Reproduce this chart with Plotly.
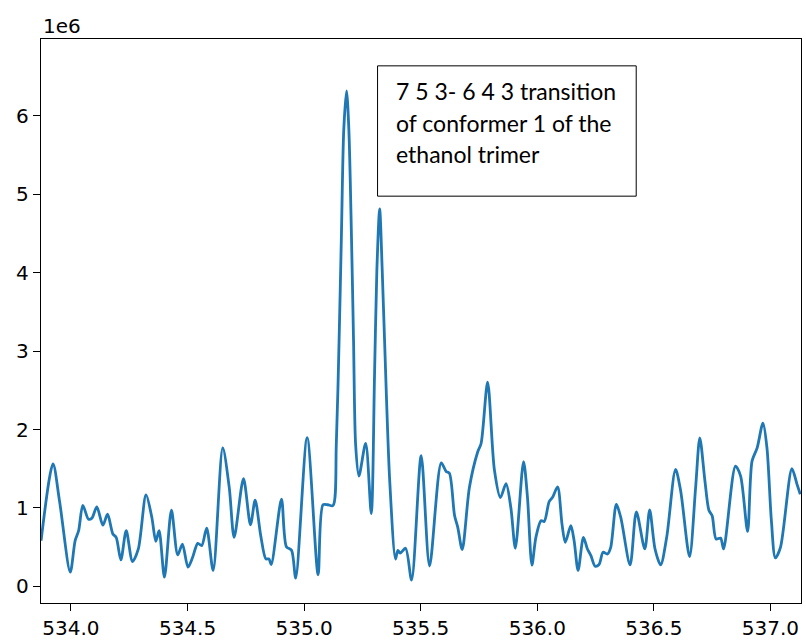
import plotly.graph_objects as go

# Frequency axis (MHz) and intensity (units of 1e6) of the measured spectrum segment
freq_mhz = [
    533.872, 533.923, 533.951, 533.997, 534.018, 534.033, 534.051, 534.075, 534.090, 534.111,
    534.137, 534.157, 534.180, 534.194, 534.214, 534.237, 534.264, 534.289, 534.322, 534.347,
    534.364, 534.378, 534.401, 534.431, 534.458, 534.478, 534.502, 534.522, 534.544, 534.561,
    534.582, 534.610, 534.651, 534.679, 534.700, 534.740, 534.770, 534.790, 534.814, 534.836,
    534.849, 534.859, 534.903, 534.924, 534.946, 534.964, 535.013, 535.060, 535.081, 535.102,
    535.124, 535.138, 535.150, 535.160, 535.170, 535.182, 535.192, 535.203, 535.212, 535.221,
    535.235, 535.264, 535.288, 535.302, 535.312, 535.324, 535.335, 535.345, 535.367, 535.392,
    535.402, 535.412, 535.435, 535.461, 535.502, 535.538, 535.588, 535.609, 535.623, 535.645,
    535.659, 535.678, 535.709, 535.744, 535.759, 535.787, 535.816, 535.842, 535.866, 535.887,
    535.906, 535.941, 535.958, 535.977, 535.994, 536.016, 536.030, 536.051, 536.065, 536.087,
    536.106, 536.120, 536.144, 536.158, 536.175, 536.198, 536.215, 536.230, 536.248, 536.265,
    536.282, 536.301, 536.315, 536.339, 536.358, 536.398, 536.425, 536.461, 536.482, 536.505,
    536.529, 536.555, 536.593, 536.615, 536.653, 536.679, 536.697, 536.719, 536.736, 536.750,
    536.767, 536.786, 536.799, 536.850, 536.872, 536.902, 536.921, 536.943, 536.968, 536.985,
    537.004, 537.021, 537.043, 537.092, 537.114, 537.128,
]
intensity_1e6 = [
    0.583, 1.563, 1.090, 0.181, 0.583, 0.710, 1.034, 0.857, 0.870, 1.014,
    0.781, 0.920, 0.667, 0.625, 0.337, 0.710, 0.317, 0.477, 1.166, 0.879,
    0.574, 0.710, 0.118, 0.971, 0.401, 0.540, 0.245, 0.371, 0.549, 0.520,
    0.743, 0.203, 1.766, 1.259, 0.625, 1.373, 0.786, 1.098, 0.647, 0.350,
    0.350, 0.279, 1.111, 0.506, 0.460, 0.105, 1.898, 0.148, 1.041, 1.041,
    1.031, 1.804, 3.139, 4.479, 5.818, 6.317, 5.818, 4.479, 3.139, 1.804,
    1.407, 1.822, 0.929, 2.693, 4.030, 4.814, 4.030, 3.139, 1.354, 0.349,
    0.460, 0.425, 0.486, 0.081, 1.666, 0.260, 1.576, 1.466, 1.443, 0.908,
    0.752, 0.469, 1.264, 1.710, 1.822, 2.603, 1.487, 1.132, 1.310, 0.996,
    0.486, 1.590, 1.132, 0.270, 0.625, 0.837, 0.828, 1.081, 1.132, 1.268,
    0.794, 0.562, 0.773, 0.583, 0.203, 0.625, 0.477, 0.393, 0.257, 0.279,
    0.435, 0.413, 0.498, 1.047, 0.879, 0.274, 0.951, 0.477, 0.976, 0.477,
    0.274, 0.625, 1.491, 1.217, 0.380, 1.259, 1.893, 1.344, 0.971, 0.900,
    0.603, 0.616, 0.477, 1.534, 1.407, 0.701, 1.597, 1.766, 2.083, 1.766,
    0.837, 0.363, 0.498, 1.500, 1.301, 1.174,
]
intensity = [v * 1e6 for v in intensity_1e6]

x_ticks = [534.0, 534.5, 535.0, 535.5, 536.0, 536.5, 537.0]
x_tick_labels = ["534.0", "534.5", "535.0", "535.5", "536.0", "536.5", "537.0"]
y_ticks = [0, 1e6, 2e6, 3e6, 4e6, 5e6, 6e6]
y_tick_labels = ["0", "1", "2", "3", "4", "5", "6"]

note_lines = ["7 5 3- 6 4 3 transition", "of conformer 1 of the", "ethanol trimer"]

W, H = 806, 644
ML, MR, MT, MB = 41, 4, 39, 38
PW, PH = W - ML - MR, H - MT - MB


def px_x(px):
    return (px - ML) / PW


def px_y(py):
    return (H - MB - py) / PH


fig = go.Figure(
    go.Scatter(
        x=freq_mhz,
        y=intensity,
        mode="lines",
        line=dict(color="#1f77b4", width=2.8, shape="spline", smoothing=0.8),
        hoverinfo="skip",
    )
)

axis_common = dict(
    showgrid=False,
    zeroline=False,
    showline=True,
    mirror=True,
    linecolor="black",
    linewidth=1.3,
    ticks="outside",
    ticklen=7,
    tickwidth=1.3,
    tickcolor="black",
    tickfont=dict(family="DejaVu Sans", size=20, color="black"),
)

fig.update_xaxes(
    range=[533.8716, 537.131],
    tickvals=x_ticks,
    ticktext=x_tick_labels,
    **axis_common,
)
fig.update_yaxes(
    range=[-0.212e6, 6.98e6],
    tickvals=y_ticks,
    ticktext=y_tick_labels,
    **axis_common,
)

# Text box around the transition label
fig.add_shape(
    type="rect",
    xref="paper", yref="paper",
    x0=px_x(378), x1=px_x(637), y0=px_y(197), y1=px_y(66),
    line=dict(color="black", width=1),
    fillcolor="white",
    layer="above",
)

for i, line in enumerate(note_lines):
    fig.add_annotation(
        xref="paper", yref="paper",
        x=px_x(394), y=px_y(91 + 32 * i),
        xanchor="left", yanchor="middle",
        text=line, showarrow=False,
        font=dict(family="Lato", size=23, color="black"),
    )

# Scale factor of the intensity axis
fig.add_annotation(
    xref="paper", yref="paper",
    x=px_x(41), y=px_y(26),
    xanchor="left", yanchor="middle",
    text="1e6", showarrow=False,
    font=dict(family="DejaVu Sans", size=20, color="black"),
)

fig.update_layout(
    width=W, height=H,
    margin=dict(l=ML, r=MR, t=MT, b=MB),
    plot_bgcolor="white",
    paper_bgcolor="white",
    showlegend=False,
)

fig.write_html("out.html")
